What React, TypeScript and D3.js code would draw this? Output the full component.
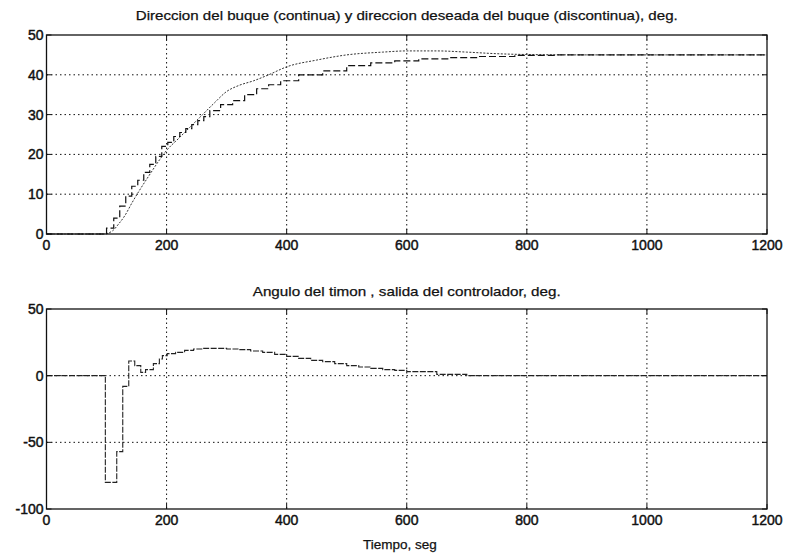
import React from "react";
import * as d3 from "d3";

// ---- data ----
const xTicks = [0, 200, 400, 600, 800, 1000, 1200];
const topYTicks = [0, 10, 20, 30, 40, 50];
const bottomYTicks = [-100, -50, 0, 50];

// ship heading (continua)
const shipTime = [0, 95, 110, 120, 130, 143, 155, 170, 190, 200, 220, 240, 260, 280, 300, 320, 345, 370, 400, 450, 500, 560, 600, 650, 700, 750, 800, 900, 1000, 1100, 1200];
const shipHeading = [0, 0, 0.8, 2.5, 4.5, 8, 11, 14.5, 19, 21, 24, 27, 30, 33, 35.8, 37.3, 38.5, 40, 42, 43.7, 45, 45.7, 46, 46, 45.7, 45.3, 45.1, 45, 45, 45, 45];

// desired heading (discontinua), staircase
const desiredTime = [0, 100, 112, 122, 132, 142, 152, 162, 172, 182, 192, 202, 212, 222, 232, 242, 252, 262, 272, 290, 310, 330, 350, 370, 390, 420, 460, 500, 540, 580, 620, 670, 720, 780, 850, 1200];
const desiredHeading = [0, 1.5, 4, 7, 9.5, 12, 13.5, 15.5, 17.5, 19.5, 22, 23, 24.5, 25.5, 26.5, 27.5, 28.5, 29.5, 31, 32.5, 33.5, 35, 36.5, 37.5, 38.5, 40, 41, 42.3, 43, 43.5, 44, 44.3, 44.6, 44.9, 45, 45];

// rudder angle, controller output (staircase)
const rudderTime = [0, 98, 117, 127, 137, 147, 157, 165, 178, 188, 193, 201, 215, 230, 245, 260, 280, 300, 320, 340, 360, 380, 400, 420, 440, 460, 480, 500, 520, 540, 560, 580, 600, 650, 700, 1200];
const rudderAngle = [0, -80, -57, -8, 11, 7.5, 2.5, 4.5, 9, 12.5, 15, 16.5, 17.5, 19, 20, 20.5, 20.5, 20, 19.5, 18.5, 17.5, 16, 14.5, 13, 11.5, 10.5, 9, 7.5, 6.5, 5.5, 4.5, 4, 3, 1, 0, 0];

const topTitle = "Direccion del buque (continua) y direccion deseada del buque (discontinua), deg.";
const bottomTitle = "Angulo del timon , salida del controlador, deg.";
const xLabel = "Tiempo, seg";

const FONT = "'Liberation Sans', Arial, Helvetica, sans-serif";
const INK = "#111";

type Series = { t: number[]; v: number[]; dash: string; width: number; curve: d3.CurveFactory; color: string };

function Panel({ top, bottom, yDomain, yTicks, series, title, titleY, titleLen }: {
  top: number; bottom: number; yDomain: [number, number]; yTicks: number[]; series: Series[]; title: string; titleY: number; titleLen: number;
}) {
  const x = d3.scaleLinear().domain([0, 1200]).range([46.5, 767]);
  const y = d3.scaleLinear().domain(yDomain).range([bottom, top]);
  const [x0, x1] = x.range();
  return (
    <g>
      <text x={(x0 + x1) / 2} y={titleY} textAnchor="middle" fontSize={13.5} fontFamily={FONT} fill={INK}
        stroke={INK} strokeWidth={0.25} textLength={titleLen} lengthAdjust="spacingAndGlyphs">{title}</text>
      {/* grid */}
      {xTicks.slice(1, -1).map((t) => (
        <line key={"gx" + t} x1={x(t)} x2={x(t)} y1={top} y2={bottom} stroke={INK} strokeWidth={1} strokeDasharray="1.5,3" />
      ))}
      {yTicks.slice(1, -1).map((t) => (
        <line key={"gy" + t} x1={x0} x2={x1} y1={y(t)} y2={y(t)} stroke={INK} strokeWidth={1} strokeDasharray="1.5,3" />
      ))}
      {/* series */}
      {series.map((s, i) => {
        const pts = s.t.map((tt, k) => [tt, s.v[k]] as [number, number]);
        const path = d3.line<[number, number]>().x((d) => x(d[0])).y((d) => y(d[1])).curve(s.curve)(pts) || "";
        return <path key={i} d={path} fill="none" stroke={s.color} strokeWidth={s.width} strokeDasharray={s.dash} />;
      })}
      {/* box */}
      <rect x={x0} y={top} width={x1 - x0} height={bottom - top} fill="none" stroke={INK} strokeWidth={1.3} />
      {/* ticks */}
      {xTicks.map((t) => (
        <g key={"tx" + t}>
          <line x1={x(t)} x2={x(t)} y1={bottom} y2={bottom - 5} stroke={INK} />
          <line x1={x(t)} x2={x(t)} y1={top} y2={top + 5} stroke={INK} />
          <text x={x(t)} y={bottom + 16} textAnchor="middle" fontSize={14} fontFamily={FONT} fill={INK}
            stroke={INK} strokeWidth={0.45}>{t}</text>
        </g>
      ))}
      {yTicks.map((t) => (
        <g key={"ty" + t}>
          <line x1={x0} x2={x0 + 5} y1={y(t)} y2={y(t)} stroke={INK} />
          <line x1={x1} x2={x1 - 5} y1={y(t)} y2={y(t)} stroke={INK} />
          <text x={x0 - 3} y={y(t) + 5} textAnchor="end" fontSize={14} fontFamily={FONT} fill={INK}
            stroke={INK} strokeWidth={0.45}>{t}</text>
        </g>
      ))}
    </g>
  );
}

export default function App() {
  const topSeries: Series[] = [
    { t: shipTime, v: shipHeading, dash: "2,1.5", width: 1, curve: d3.curveMonotoneX, color: "#333" },
    { t: desiredTime, v: desiredHeading, dash: "7,3", width: 1.2, curve: d3.curveStepAfter, color: "#111" },
  ];
  const bottomSeries: Series[] = [
    { t: rudderTime, v: rudderAngle, dash: "6,1.5", width: 1.1, curve: d3.curveStepAfter, color: "#222" },
  ];
  return (
    <svg width={788} height={560} style={{ position: "absolute", left: 0, top: 0, background: "#fff" }}>
      <rect width={788} height={560} fill="#fff" />
      <Panel top={35} bottom={234} yDomain={[0, 50]} yTicks={topYTicks} series={topSeries}
        title={topTitle} titleY={20} titleLen={542} />
      <Panel top={309} bottom={509} yDomain={[-100, 50]} yTicks={bottomYTicks} series={bottomSeries}
        title={bottomTitle} titleY={296} titleLen={308} />
      <text x={400} y={549} textAnchor="middle" fontSize={13.5} fontFamily={FONT} fill={INK}
        stroke={INK} strokeWidth={0.25}>{xLabel}</text>
    </svg>
  );
}
